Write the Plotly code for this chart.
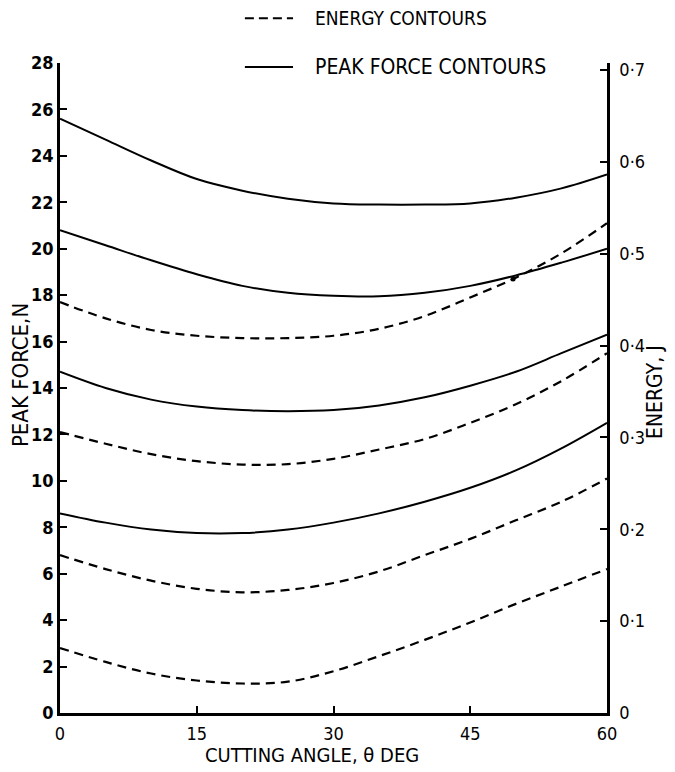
import plotly.graph_objects as go

# Cutting angle (deg)
angle = [0, 5, 10, 15, 20, 25, 30, 35, 40, 45, 50, 55, 60]

# Peak force contours (N)
force_1 = [25.6, 24.7, 23.8, 23.0, 22.5, 22.15, 21.95, 21.9, 21.9, 21.95, 22.2, 22.6, 23.2]
force_2 = [20.8, 20.15, 19.5, 18.9, 18.4, 18.1, 17.97, 17.95, 18.1, 18.4, 18.85, 19.4, 20.0]
force_3 = [14.7, 14.0, 13.5, 13.2, 13.05, 13.0, 13.05, 13.25, 13.6, 14.1, 14.7, 15.5, 16.3]
force_4 = [8.6, 8.2, 7.9, 7.75, 7.75, 7.9, 8.2, 8.6, 9.1, 9.7, 10.45, 11.4, 12.5]

# Energy contours (plotted on the peak-force scale, N)
energy_1 = [17.7, 17.0, 16.5, 16.25, 16.15, 16.15, 16.25, 16.55, 17.1, 17.9, 18.75, 19.8, 21.1]
energy_2 = [12.1, 11.6, 11.15, 10.85, 10.7, 10.72, 10.95, 11.35, 11.8, 12.5, 13.3, 14.3, 15.5]
energy_3 = [6.8, 6.2, 5.7, 5.35, 5.2, 5.3, 5.6, 6.1, 6.8, 7.5, 8.3, 9.1, 10.1]
energy_4 = [2.8, 2.2, 1.7, 1.4, 1.27, 1.35, 1.8, 2.45, 3.15, 3.9, 4.7, 5.45, 6.2]

# Intersection dot
dot_angle = [49.7]
dot_force = [18.7]

# Axis ticks
x_ticks = [0, 15, 30, 45, 60]
force_ticks = list(range(0, 29, 2))
energy_ticks = [0, 0.1, 0.2, 0.3, 0.4, 0.5, 0.6, 0.7]
energy_labels = ["0", "0·1", "0·2", "0·3", "0·4", "0·5", "0·6", "0·7"]

FONT = "DejaVu Sans Condensed, DejaVu Sans, sans-serif"

fig = go.Figure()

for ys in [force_1, force_2, force_3, force_4]:
    fig.add_trace(go.Scatter(x=angle, y=ys, mode="lines",
                             line=dict(color="black", width=2, shape="spline", smoothing=1.0),
                             showlegend=False, hoverinfo="skip"))
for ys in [energy_1, energy_2, energy_3, energy_4]:
    fig.add_trace(go.Scatter(x=angle, y=ys, mode="lines",
                             line=dict(color="black", width=2.2, shape="spline", smoothing=1.0,
                                       dash="9px,6px"),
                             showlegend=False, hoverinfo="skip"))
fig.add_trace(go.Scatter(x=dot_angle, y=dot_force, mode="markers",
                         marker=dict(color="black", size=5),
                         showlegend=False, hoverinfo="skip"))
# invisible trace to activate the right-hand energy axis
fig.add_trace(go.Scatter(x=[0] * len(energy_ticks), y=energy_ticks, yaxis="y2",
                         mode="markers", marker=dict(opacity=0),
                         showlegend=False, hoverinfo="skip"))

fig.update_layout(
    width=675, height=772,
    margin=dict(l=60, r=68, t=63, b=59),
    paper_bgcolor="white", plot_bgcolor="white",
    font=dict(family=FONT, color="black"),
    xaxis=dict(range=[0, 60], tickvals=x_ticks, ticks="inside", ticklen=7, tickwidth=2,
               tickcolor="black", showline=True, linecolor="black", linewidth=2.5,
               showgrid=False, zeroline=False, mirror=False,
               tickfont=dict(size=18, family=FONT), ticklabelstandoff=3),
    yaxis=dict(range=[0, 28], tickvals=force_ticks, ticks="inside", ticklen=7, tickwidth=2,
               tickcolor="black", showline=True, linecolor="black", linewidth=2.5,
               showgrid=False, zeroline=False,
               tickfont=dict(size=18, family="DejaVu Sans Condensed, DejaVu Sans", weight="bold"),
               ticklabelstandoff=0),
    yaxis2=dict(range=[0, 0.7076], overlaying="y", side="right", anchor="x",
                tickvals=energy_ticks, ticktext=energy_labels, ticks="inside", ticklen=7,
                tickwidth=2, tickcolor="black", showline=True, linecolor="black", linewidth=2.5,
                showgrid=False, zeroline=False,
                tickfont=dict(size=18, family=FONT), ticklabelstandoff=6),
)

annotations = [
    dict(text="CUTTING ANGLE, θ DEG", x=0.461, y=-0.065, xref="paper", yref="paper",
         showarrow=False, font=dict(size=20, family=FONT), xanchor="center", yanchor="middle"),
    dict(text="PEAK FORCE,N", x=-0.073, y=0.52, xref="paper", yref="paper", textangle=-90,
         showarrow=False, font=dict(size=22, family=FONT), xanchor="center", yanchor="middle"),
    dict(text="ENERGY, J", x=1.088, y=0.494, xref="paper", yref="paper", textangle=-90,
         showarrow=False, font=dict(size=21, family=FONT), xanchor="center", yanchor="middle"),
    dict(text="ENERGY CONTOURS", x=0.4625, y=1.069, xref="paper", yref="paper",
         showarrow=False, font=dict(size=19, family=FONT), xanchor="left", yanchor="middle"),
    dict(text="PEAK FORCE CONTOURS", x=0.4625, y=0.9938, xref="paper", yref="paper",
         showarrow=False, font=dict(size=21, family=FONT), xanchor="left", yanchor="middle"),
]
fig.update_layout(annotations=annotations)

fig.add_shape(type="line", xref="paper", yref="paper", x0=0.338, x1=0.426, y0=1.069, y1=1.069,
              line=dict(color="black", width=2, dash="9px,5px"))
fig.add_shape(type="line", xref="paper", yref="paper", x0=0.338, x1=0.426, y0=0.9938, y1=0.9938,
              line=dict(color="black", width=2))

fig.write_html("out.html")
